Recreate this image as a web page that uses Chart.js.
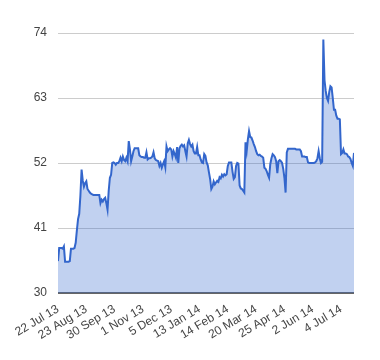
<!DOCTYPE html>
<html>
<head>
<meta charset="utf-8">
<script src="https://cdn.jsdelivr.net/npm/chart.js@4"></script>
<style>
html,body{margin:0;padding:0;background:#fff;}
#wrap{width:380px;height:360px;position:relative;}
</style>
</head>
<body>
<div id="wrap"><canvas id="c" width="380" height="360"></canvas></div>
<script>
// Tick labels on the x axis (one every 24 trading days)
const tickLabels = ["22 Jul 13","23 Aug 13","30 Sep 13","1 Nov 13","5 Dec 13","13 Jan 14","14 Feb 14","20 Mar 14","25 Apr 14","2 Jun 14","4 Jul 14"];
const tickEvery = 24;
// y-axis tick values
const yTicks = [30, 41, 52, 63, 74];
// daily price values
const prices = [
35.4,37.6,37.6,37.6,37.5,37.9,35.3,35.3,35.3,35.3,
35.4,37.5,37.5,37.5,37.6,38.5,40.6,42.5,43.4,46.5,
50.9,49.0,48.0,48.6,48.9,47.6,47.3,47.0,46.8,46.7,
46.6,46.6,46.6,46.6,46.6,46.6,45.2,45.8,45.5,45.9,
46.1,45.2,44.1,47.3,49.5,50.0,52.0,52.1,52.0,51.7,
52.0,52.0,52.3,52.9,52.3,53.1,52.5,52.3,52.9,52.3,
55.7,54.3,52.3,53.1,54.0,54.5,54.5,54.5,54.5,53.3,
53.1,53.0,53.0,52.9,52.9,53.8,52.6,52.8,52.8,52.9,
53.1,53.8,52.8,52.5,52.4,52.3,51.5,52.0,51.2,51.8,
52.3,51.3,54.8,54.0,54.3,54.5,54.3,53.1,54.0,53.5,
52.9,54.7,52.0,54.5,54.9,55.1,54.8,55.0,54.0,53.1,
55.3,55.9,55.2,54.8,55.1,54.0,53.6,53.6,54.7,53.3,
53.3,52.6,52.1,52.0,53.5,53.2,52.1,51.6,50.4,49.3,
47.6,48.0,48.9,48.4,48.7,49.0,48.8,49.6,49.4,50.0,
49.7,50.1,49.9,50.1,51.5,52.1,52.1,52.1,50.5,49.3,
49.6,51.5,52.0,51.9,48.2,47.7,47.6,47.3,47.0,55.5,
54.0,56.0,57.4,56.4,56.3,55.8,55.2,54.7,54.0,53.5,
53.3,53.4,53.2,53.1,52.9,51.2,51.0,50.6,50.0,49.5,
51.8,52.8,53.5,53.3,53.0,52.3,50.3,52.3,52.5,52.3,
52.0,51.0,49.5,47.0,53.8,54.4,54.4,54.4,54.4,54.4,
54.4,54.4,54.3,54.3,54.3,54.3,54.0,53.1,53.1,53.1,
53.0,53.0,52.1,52.0,52.0,52.0,52.0,52.0,52.1,52.3,
52.8,54.0,52.8,52.0,52.2,72.9,66.0,64.2,63.0,62.5,
64.0,65.0,64.8,63.0,61.0,61.0,60.0,59.5,59.5,59.4,
53.5,53.7,54.3,53.6,53.6,53.5,53.1,53.0,52.7,52.0,
51.5,53.7
];

const points = prices.map((v, i) => ({x: i, y: v}));
const fontFamily = "'Liberation Sans', Arial, sans-serif";

new Chart(document.getElementById('c'), {
  type: 'line',
  data: {
    datasets: [{
      data: points,
      borderColor: '#3366cc',
      backgroundColor: 'rgba(51,102,204,0.3)',
      borderWidth: 2,
      pointRadius: 0,
      pointHoverRadius: 0,
      tension: 0,
      fill: 'start'
    }]
  },
  options: {
    responsive: false,
    animation: false,
    events: [],
    layout: { padding: { top: 33, right: 26, left: 0, bottom: 0 } },
    plugins: { legend: { display: false }, tooltip: { enabled: false } },
    scales: {
      x: {
        type: 'linear',
        min: 0,
        max: prices.length - 1,
        afterBuildTicks: (axis) => {
          axis.ticks = tickLabels.map((_, k) => ({ value: k * tickEvery }));
        },
        afterFit: (scale) => { scale.height = 67; },
        grid: { display: false, drawTicks: false },
        border: { display: false },
        ticks: {
          autoSkip: false,
          minRotation: 31,
          maxRotation: 31,
          padding: 9,
          color: '#444',
          font: { family: fontFamily, size: 12 },
          callback: (v) => tickLabels[Math.round(v / tickEvery)]
        }
      },
      y: {
        min: 30,
        max: 74,
        afterBuildTicks: (axis) => {
          axis.ticks = yTicks.map(v => ({ value: v }));
        },
        afterFit: (scale) => { scale.width = 58; },
        grid: {
          drawTicks: false,
          color: (ctx) => ctx.tick && ctx.tick.value === 30 ? '#666' : '#ccc',
          lineWidth: (ctx) => ctx.tick && ctx.tick.value === 30 ? 2 : 1
        },
        border: { display: false },
        ticks: {
          padding: 11,
          color: '#444',
          font: { family: fontFamily, size: 12 }
        }
      }
    }
  }
});
</script>
</body>
</html>
